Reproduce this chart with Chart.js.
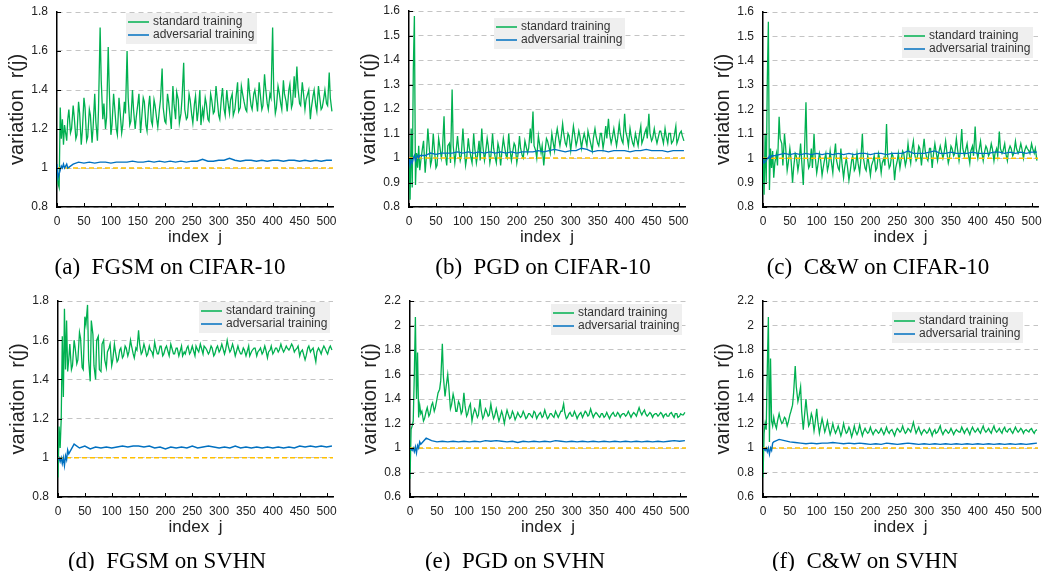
<!DOCTYPE html>
<html>
<head>
<meta charset="utf-8">
<script src="https://cdn.jsdelivr.net/npm/chart.js"></script>
<style>
  body { margin: 0; background: #fff; width: 1044px; height: 571px; position: relative; overflow: hidden; }
  canvas { position: absolute; }
  .cap { position: absolute; font-family: "Liberation Serif", "Times New Roman", serif; font-size: 23px; line-height: 26px; color: #000; white-space: pre; transform: translateX(-50%); }
</style>
</head>
<body>
<script>
// x positions (index j) of the "standard training" samples
const idxStd = [0,2,4,6,8,10,12,14,16,18,20,
  25,30,35,40,45,50,55,60,65,70,
  75,80,85,90,95,100,105,110,115,120,
  125,130,135,140,145,150,155,160,165,170,
  175,180,185,190,195,200,205,210,215,220,
  225,230,235,240,245,250,255,260,265,270,
  275,280,285,290,295,300,305,310,315,320,
  325,330,335,340,345,350,355,360,365,370,
  375,380,385,390,395,400,405,410,415,420,
  425,430,435,440,445,450,455,460,465,470,
  475,480,485,490,495,500,505,510];

// extra "standard training" samples read in between the ones above
const idxMid = [22,27,32,37,42,47,52,57,62,67,
  72,77,82,87,92,97,102,107,112,117,
  122,127,132,137,142,147,152,157,162,167,
  172,177,182,187,192,197,202,207,212,217,
  222,227,232,237,242,247,252,257,262,267,
  272,277,282,287,292,297,302,307,312,317,
  322,327,332,337,342,347,352,357,362,367,
  372,377,382,387,392,397,402,407,412,417,
  422,427,432,437,442,447,452,457,462,467,
  472,477,482,487,492,497,502,507];

// x positions of the "adversarial training" samples
const idxAdv = [0,2,4,6,8,10,12,14,16,18,20,
  30,40,50,60,70,80,90,100,110,120,
  130,140,150,160,170,180,190,200,210,220,
  230,240,250,260,270,280,290,300,310,320,
  330,340,350,360,370,380,390,400,410,420,
  430,440,450,460,470,480,490,500,510];

// (a) FGSM on CIFAR-10
const stdA = [1.00,0.92,0.90,1.31,1.15,1.25,1.12,1.22,1.18,1.14,1.25,
  1.18,1.32,1.15,1.34,1.12,1.36,1.14,1.30,1.13,1.38,
  1.14,1.72,1.25,1.20,1.62,1.17,1.38,1.20,1.36,1.18,
  1.34,1.60,1.22,1.40,1.20,1.33,1.18,1.36,1.22,1.32,
  1.24,1.35,1.25,1.30,1.51,1.24,1.38,1.26,1.42,1.25,
  1.35,1.28,1.54,1.25,1.38,1.27,1.33,1.24,1.40,1.30,
  1.36,1.25,1.38,1.28,1.42,1.27,1.36,1.30,1.40,1.28,
  1.38,1.30,1.44,1.31,1.37,1.30,1.46,1.32,1.38,1.34,
  1.44,1.30,1.48,1.33,1.38,1.72,1.28,1.42,1.33,1.45,
  1.34,1.40,1.31,1.47,1.52,1.33,1.44,1.30,1.38,1.25,
  1.37,1.32,1.42,1.30,1.36,1.33,1.49,1.29];
const midA = [1.30,1.20,1.26,1.17,1.28,1.19,1.31,1.16,1.27,1.21,
  1.24,1.30,1.45,1.33,1.26,1.40,1.22,1.31,1.17,1.29,
  1.22,1.28,1.36,1.24,1.30,1.26,1.38,1.25,1.34,1.19,
  1.37,1.22,1.32,1.21,1.35,1.31,1.23,1.34,1.20,1.33,
  1.39,1.23,1.36,1.30,1.26,1.35,1.23,1.37,1.29,1.22,
  1.26,1.33,1.24,1.35,1.29,1.36,1.25,1.41,1.27,1.34,
  1.35,1.27,1.36,1.29,1.42,1.34,1.29,1.39,1.30,1.40,
  1.29,1.38,1.32,1.41,1.30,1.36,1.40,1.31,1.39,1.30,
  1.38,1.29,1.43,1.33,1.36,1.41,1.32,1.39,1.35,1.40,
  1.31,1.40,1.29,1.37,1.31,1.40,1.32,1.36];
const advA = [1.02,0.95,0.97,0.99,1.01,1.00,1.02,1.00,1.01,1.02,1.00,
  1.02,1.03,1.025,1.03,1.025,1.03,1.03,1.025,1.03,1.03,
  1.03,1.035,1.03,1.03,1.035,1.03,1.035,1.03,1.035,1.03,
  1.035,1.03,1.035,1.035,1.045,1.035,1.035,1.04,1.04,1.05,
  1.04,1.035,1.04,1.04,1.035,1.04,1.035,1.04,1.04,1.035,
  1.04,1.04,1.035,1.04,1.035,1.04,1.035,1.04,1.04];

// (b) PGD on CIFAR-10
const stdB = [1.00,0.83,1.12,0.88,1.36,1.58,0.89,1.02,0.96,1.05,0.95,
  1.04,0.94,1.12,0.97,1.10,0.96,1.08,1.00,1.17,0.97,
  1.06,1.28,0.98,1.09,0.99,1.12,0.97,1.08,1.00,1.10,
  0.98,1.07,1.12,0.99,1.08,0.98,1.10,1.00,1.06,0.97,
  1.08,1.01,1.10,0.99,1.06,0.98,1.09,1.01,1.07,1.02,
  1.12,1.19,1.03,1.09,1.02,0.97,1.08,1.04,1.10,1.03,
  1.12,1.05,1.14,1.06,1.10,1.03,1.13,1.05,1.11,1.04,
  1.10,1.05,1.08,1.03,1.12,1.06,1.10,1.04,1.13,1.16,
  1.06,1.12,1.05,1.14,1.07,1.18,1.08,1.12,1.06,1.10,
  1.05,1.13,1.08,1.12,1.18,1.07,1.12,1.06,1.11,1.08,
  1.12,1.06,1.10,1.07,1.13,1.08,1.11,1.07];
const midB = [0.99,1.07,1.00,1.06,0.99,1.04,0.97,1.05,1.03,1.02,
  1.05,0.98,1.05,1.02,1.04,1.01,1.05,1.00,1.04,0.98,
  1.04,1.01,0.99,1.05,1.02,1.05,1.01,1.04,0.98,1.04,
  1.02,1.05,1.00,1.04,1.02,1.05,1.01,1.04,1.00,1.05,
  1.04,1.06,1.05,1.00,1.06,1.05,1.02,1.07,1.02,1.07,
  1.08,1.09,1.08,1.10,1.05,1.09,1.07,1.10,1.07,1.09,
  1.07,1.08,1.11,1.06,1.08,1.09,1.05,1.10,1.07,1.08,
  1.10,1.08,1.09,1.08,1.10,1.06,1.11,1.05,1.09,1.05,
  1.08,1.09,1.06,1.10,1.08,1.10,1.08,1.09,1.08,1.11,
  1.06,1.09,1.10,1.06,1.09,1.06,1.10,1.09];
const advB = [1.00,0.97,0.99,0.98,1.00,1.01,0.99,1.00,1.01,1.00,1.01,
  1.01,1.02,1.015,1.02,1.02,1.02,1.025,1.02,1.025,1.02,
  1.025,1.02,1.025,1.02,1.025,1.02,1.025,1.02,1.025,1.025,
  1.025,1.03,1.025,1.03,1.035,1.03,1.025,1.03,1.03,1.04,
  1.035,1.025,1.03,1.03,1.025,1.03,1.03,1.03,1.025,1.03,
  1.03,1.035,1.03,1.03,1.03,1.025,1.03,1.03,1.03];

// (c) C&W on CIFAR-10
const stdC = [1.00,0.85,1.10,0.90,1.32,1.56,0.87,1.04,0.96,1.03,0.92,
  1.02,1.17,1.06,1.10,0.95,1.04,0.90,1.02,0.95,1.06,
  0.89,1.23,0.96,1.04,1.10,0.94,1.02,0.93,1.00,0.95,
  1.03,0.94,1.06,0.96,1.04,0.92,1.00,0.91,0.99,0.95,
  1.02,0.94,1.10,0.96,1.01,0.93,0.99,0.95,1.02,0.94,
  1.00,1.14,0.96,1.02,0.91,0.99,0.96,1.03,0.97,1.06,
  0.98,1.07,0.99,1.05,0.97,1.08,1.00,1.04,0.96,1.06,
  0.99,1.05,1.00,1.07,0.98,1.05,1.01,1.08,0.99,1.12,
  1.01,1.06,0.98,1.05,1.13,1.00,1.07,0.99,1.05,1.01,
  1.06,0.99,1.04,1.11,1.02,1.06,0.99,1.05,1.01,1.07,
  1.02,1.06,1.00,1.05,1.03,1.06,1.02,0.99];
const midC = [0.98,0.97,1.08,0.97,1.05,0.98,1.00,0.96,1.01,0.98,
  0.99,1.01,1.02,0.97,0.96,1.01,0.97,1.00,0.96,1.02,
  0.97,0.99,1.00,0.99,0.95,0.98,0.96,0.97,0.94,1.01,
  0.96,0.98,0.99,1.00,0.95,0.98,0.97,1.01,0.96,1.00,
  0.98,0.97,1.01,0.97,1.01,0.96,1.02,0.99,1.02,0.99,
  1.02,1.03,1.02,1.00,1.04,1.02,1.03,0.99,1.04,1.01,
  1.03,1.02,1.03,1.02,1.03,1.00,1.04,1.02,1.04,1.02,
  1.04,1.03,1.02,1.03,1.01,1.04,1.03,1.03,1.02,1.04,
  1.02,1.04,1.02,1.01,1.04,1.03,1.02,1.03,1.04,1.02,
  1.04,1.03,1.04,1.03,1.04,1.02,1.04,1.04];
const advC = [1.00,0.98,0.985,0.99,1.00,1.00,1.01,1.00,1.01,1.01,1.01,
  1.015,1.02,1.015,1.02,1.015,1.02,1.015,1.02,1.015,1.02,
  1.015,1.02,1.015,1.02,1.015,1.02,1.02,1.015,1.02,1.02,
  1.015,1.02,1.02,1.02,1.03,1.02,1.02,1.02,1.025,1.03,
  1.02,1.02,1.025,1.02,1.02,1.02,1.025,1.02,1.02,1.02,
  1.025,1.025,1.02,1.025,1.02,1.025,1.02,1.025,1.025];

// (d) FGSM on SVHN
const stdD = [0.90,1.16,1.05,1.20,1.62,1.31,1.76,1.45,1.70,1.44,1.50,
  1.45,1.60,1.48,1.64,1.46,1.72,1.78,1.39,1.63,1.40,
  1.62,1.44,1.60,1.46,1.56,1.47,1.58,1.49,1.55,1.51,
  1.57,1.52,1.60,1.53,1.56,1.65,1.53,1.58,1.52,1.57,
  1.54,1.59,1.53,1.57,1.52,1.56,1.54,1.58,1.53,1.56,
  1.52,1.57,1.54,1.56,1.53,1.57,1.52,1.55,1.58,1.53,
  1.56,1.53,1.57,1.52,1.56,1.54,1.58,1.53,1.60,1.54,
  1.58,1.52,1.57,1.53,1.56,1.52,1.57,1.54,1.56,1.52,
  1.55,1.53,1.57,1.51,1.55,1.53,1.56,1.54,1.58,1.54,
  1.57,1.55,1.58,1.54,1.56,1.52,1.55,1.50,1.56,1.54,
  1.56,1.49,1.56,1.53,1.57,1.54,1.56,1.55];
const midD = [1.58,1.47,1.56,1.50,1.61,1.45,1.68,1.50,1.70,1.47,
  1.60,1.45,1.58,1.50,1.54,1.58,1.50,1.54,1.50,1.56,
  1.52,1.56,1.54,1.57,1.51,1.55,1.58,1.54,1.56,1.53,
  1.55,1.52,1.56,1.53,1.57,1.53,1.57,1.52,1.56,1.53,
  1.56,1.54,1.52,1.53,1.57,1.54,1.55,1.57,1.54,1.56,
  1.57,1.55,1.54,1.56,1.53,1.57,1.55,1.56,1.55,1.57,
  1.55,1.56,1.54,1.55,1.53,1.55,1.54,1.52,1.55,1.56,
  1.54,1.56,1.54,1.55,1.54,1.57,1.54,1.56,1.55,1.56,
  1.55,1.56,1.56,1.57,1.55,1.57,1.54,1.53,1.52,1.57,
  1.55,1.53,1.54,1.55,1.55,1.56,1.53,1.57];
const advD = [0.99,1.00,0.98,1.00,0.97,1.00,0.96,1.01,0.99,1.04,1.02,
  1.07,1.05,1.06,1.045,1.055,1.05,1.055,1.05,1.055,1.06,
  1.055,1.06,1.06,1.055,1.06,1.05,1.055,1.045,1.055,1.05,
  1.055,1.05,1.06,1.05,1.055,1.06,1.055,1.05,1.055,1.05,
  1.06,1.05,1.055,1.05,1.055,1.05,1.055,1.05,1.055,1.05,
  1.055,1.05,1.06,1.055,1.06,1.055,1.06,1.055,1.06];

// (e) PGD on SVHN
const stdE = [0.75,1.15,1.18,1.22,1.60,2.07,1.40,1.78,1.25,1.35,1.28,
  1.22,1.30,1.26,1.35,1.30,1.40,1.48,1.85,1.42,1.60,
  1.32,1.44,1.30,1.38,1.28,1.45,1.26,1.34,1.22,1.32,
  1.25,1.40,1.24,1.32,1.26,1.36,1.24,1.32,1.22,1.30,
  1.20,1.31,1.24,1.30,1.23,1.29,1.25,1.30,1.24,1.28,
  1.26,1.30,1.24,1.28,1.25,1.31,1.24,1.28,1.26,1.30,
  1.25,1.30,1.36,1.24,1.28,1.26,1.30,1.24,1.28,1.25,
  1.30,1.26,1.32,1.25,1.29,1.26,1.28,1.25,1.29,1.24,
  1.28,1.26,1.29,1.25,1.28,1.26,1.30,1.25,1.29,1.26,
  1.33,1.27,1.31,1.26,1.29,1.25,1.28,1.26,1.29,1.25,
  1.28,1.26,1.29,1.25,1.28,1.26,1.27,1.29];
const midE = [1.30,1.24,1.33,1.28,1.37,1.33,1.45,1.55,1.58,1.50,
  1.50,1.35,1.40,1.30,1.36,1.30,1.35,1.28,1.36,1.27,
  1.30,1.27,1.31,1.26,1.30,1.27,1.30,1.26,1.28,1.25,
  1.27,1.25,1.28,1.25,1.28,1.25,1.27,1.26,1.28,1.25,
  1.28,1.25,1.29,1.26,1.29,1.26,1.28,1.25,1.28,1.25,
  1.28,1.27,1.30,1.29,1.25,1.29,1.26,1.28,1.26,1.29,
  1.27,1.29,1.27,1.29,1.27,1.28,1.25,1.28,1.26,1.27,
  1.26,1.29,1.26,1.28,1.27,1.28,1.27,1.28,1.27,1.28,
  1.29,1.30,1.29,1.28,1.27,1.28,1.27,1.28,1.27,1.28,
  1.27,1.26,1.28,1.27,1.28,1.25,1.28,1.27];
const advE = [1.00,0.99,0.98,1.00,0.97,1.01,0.96,1.02,1.00,1.05,1.03,
  1.08,1.06,1.05,1.055,1.05,1.055,1.05,1.055,1.05,1.055,
  1.05,1.06,1.055,1.06,1.055,1.05,1.055,1.045,1.055,1.05,
  1.055,1.05,1.055,1.05,1.06,1.055,1.05,1.055,1.05,1.055,
  1.05,1.055,1.05,1.055,1.05,1.055,1.05,1.055,1.05,1.055,
  1.05,1.055,1.05,1.055,1.05,1.055,1.06,1.055,1.06];

// (f) C&W on SVHN
const stdF = [0.76,1.12,1.20,1.15,1.65,2.07,1.05,1.73,1.22,1.18,1.25,
  1.16,1.28,1.20,1.25,1.18,1.27,1.35,1.67,1.38,1.50,
  1.15,1.40,1.18,1.28,1.14,1.32,1.12,1.24,1.13,1.22,
  1.11,1.20,1.12,1.18,1.10,1.20,1.12,1.17,1.09,1.18,
  1.11,1.19,1.10,1.16,1.12,1.17,1.11,1.15,1.12,1.16,
  1.11,1.17,1.12,1.15,1.10,1.16,1.13,1.18,1.12,1.16,
  1.13,1.21,1.12,1.17,1.11,1.15,1.12,1.16,1.10,1.15,
  1.13,1.18,1.11,1.15,1.12,1.16,1.11,1.15,1.13,1.17,
  1.12,1.16,1.11,1.17,1.13,1.16,1.12,1.18,1.13,1.16,
  1.12,1.18,1.13,1.16,1.12,1.17,1.13,1.16,1.12,1.17,
  1.13,1.16,1.12,1.15,1.13,1.16,1.12,1.15];
const midF = [1.20,1.22,1.24,1.21,1.24,1.21,1.30,1.45,1.50,1.42,
  1.30,1.25,1.30,1.20,1.25,1.20,1.22,1.17,1.20,1.16,
  1.17,1.14,1.16,1.14,1.15,1.13,1.16,1.13,1.15,1.12,
  1.14,1.13,1.15,1.13,1.14,1.13,1.14,1.13,1.14,1.13,
  1.14,1.13,1.14,1.14,1.13,1.13,1.15,1.14,1.15,1.13,
  1.15,1.16,1.17,1.14,1.14,1.13,1.14,1.13,1.14,1.13,
  1.12,1.15,1.14,1.13,1.14,1.13,1.14,1.13,1.14,1.13,
  1.15,1.14,1.14,1.14,1.15,1.14,1.14,1.15,1.15,1.14,
  1.14,1.15,1.15,1.14,1.14,1.15,1.14,1.15,1.14,1.14,
  1.15,1.14,1.15,1.14,1.14,1.15,1.14,1.14];
const advF = [1.00,0.99,0.98,1.00,0.97,1.00,0.95,1.00,0.98,1.04,1.05,
  1.07,1.06,1.05,1.045,1.04,1.035,1.04,1.035,1.04,1.04,
  1.045,1.04,1.035,1.04,1.035,1.04,1.035,1.03,1.035,1.03,
  1.04,1.035,1.03,1.035,1.04,1.035,1.03,1.035,1.03,1.035,
  1.03,1.035,1.03,1.035,1.03,1.035,1.03,1.035,1.03,1.035,
  1.03,1.035,1.03,1.035,1.03,1.035,1.03,1.035,1.04];

const baseline = 1;   // orange dashed reference r(j) = 1
const xMax = 512;
const seriesNames = ['standard training', 'adversarial training'];

// plot box = [left, top, right, bottom] on the page, legend = offset inside the plot area
const panels = [
  { plot: [57, 12, 333, 207],  y: [0.8, 1.8, 0.2], std: stdA, mid: midA, adv: advA, legend: [69, 1],   cap: '(a)  FGSM on CIFAR-10', capAt: [170, 267] },
  { plot: [409, 11, 685, 207], y: [0.8, 1.6, 0.1], std: stdB, mid: midB, adv: advB, legend: [85, 7],   cap: '(b)  PGD on CIFAR-10',  capAt: [543, 267] },
  { plot: [763, 12, 1038, 207], y: [0.8, 1.6, 0.1], std: stdC, mid: midC, adv: advC, legend: [139, 15], cap: '(c)  C&W on CIFAR-10',  capAt: [878, 267] },
  { plot: [58, 301, 333, 497], y: [0.8, 1.8, 0.2], std: stdD, mid: midD, adv: advD, legend: [141, 1],  cap: '(d)  FGSM on SVHN',     capAt: [167, 561] },
  { plot: [410, 301, 686, 497], y: [0.6, 2.2, 0.2], std: stdE, mid: midE, adv: advE, legend: [141, 3],  cap: '(e)  PGD on SVHN',      capAt: [515, 561] },
  { plot: [763, 301, 1038, 497], y: [0.6, 2.2, 0.2], std: stdF, mid: midF, adv: advF, legend: [129, 11], cap: '(f)  C&W on SVHN',      capAt: [865, 561] }
];

const GREEN = '#00b050', BLUE = '#0070c0', ORANGE = '#ffc000';
const Y_AXIS_W = 57, X_AXIS_H = 48, PAD_TOP = 8, PAD_RIGHT = 6;

Chart.defaults.font.family = '"Liberation Sans", Arial, sans-serif';
Chart.defaults.color = '#222';

// inner tick marks + the grey legend box inside the plot
const overlay = {
  id: 'overlay',
  afterDatasetsDraw(chart) {
    const { ctx, chartArea: a, scales: { x, y } } = chart;
    const off = chart.options.plugins.overlay.legend;
    ctx.save();
    ctx.strokeStyle = '#000';
    ctx.lineWidth = 1;
    ctx.beginPath();
    x.ticks.forEach(t => {
      const px = Math.round(x.getPixelForValue(t.value)) + 0.5;
      ctx.moveTo(px, a.bottom); ctx.lineTo(px, a.bottom - 4);
    });
    y.ticks.forEach(t => {
      const py = Math.round(y.getPixelForValue(t.value)) + 0.5;
      ctx.moveTo(a.left, py); ctx.lineTo(a.left + 4, py);
    });
    ctx.stroke();

    const lx = a.left + off[0], ly = a.top + off[1];
    ctx.fillStyle = '#efefef';
    ctx.fillRect(lx, ly, 131, 31);
    const items = [chart.data.datasets[2], chart.data.datasets[0]];
    ctx.font = '12px "Liberation Sans", Arial, sans-serif';
    ctx.textBaseline = 'middle';
    items.forEach((ds, i) => {
      const cy = ly + 9 + i * 13;
      ctx.strokeStyle = ds.borderColor;
      ctx.lineWidth = 1.5;
      ctx.beginPath(); ctx.moveTo(lx + 2, cy); ctx.lineTo(lx + 23, cy); ctx.stroke();
      ctx.fillStyle = '#333';
      ctx.fillText(ds.label, lx + 27, cy);
    });
    ctx.restore();
  }
};

panels.forEach(p => {
  const [l, t, r, b] = p.plot;
  const cv = document.createElement('canvas');
  cv.width = r - l + Y_AXIS_W + PAD_RIGHT;
  cv.height = b - t + PAD_TOP + X_AXIS_H;
  cv.style.left = (l - Y_AXIS_W) + 'px';
  cv.style.top = (t - PAD_TOP) + 'px';
  document.body.appendChild(cv);

  const cap = document.createElement('div');
  cap.className = 'cap';
  cap.textContent = p.cap;
  cap.style.left = p.capAt[0] + 'px';
  cap.style.top = (p.capAt[1] - 13) + 'px';
  document.body.appendChild(cap);

  // merge both sets of green samples into one line, ordered by index
  const stdPoints = idxStd.map((j, i) => ({ x: j, y: p.std[i] }))
    .concat(idxMid.map((j, i) => ({ x: j, y: p.mid[i] })))
    .sort((u, v) => u.x - v.x);

  new Chart(cv, {
    type: 'line',
    data: {
      datasets: [
        { label: seriesNames[1], data: idxAdv.map((j, i) => ({ x: j, y: p.adv[i] })),
          borderColor: BLUE, borderWidth: 1.4, pointRadius: 0, tension: 0 },
        { label: 'baseline', data: [{ x: 0, y: baseline }, { x: xMax, y: baseline }],
          borderColor: ORANGE, borderWidth: 1.5, borderDash: [5, 3], pointRadius: 0 },
        { label: seriesNames[0], data: stdPoints,
          borderColor: GREEN, borderWidth: 1.3, pointRadius: 0, tension: 0 }
      ]
    },
    options: {
      responsive: false,
      animation: false,
      layout: { padding: { top: PAD_TOP, right: PAD_RIGHT, left: 0, bottom: 0 } },
      plugins: {
        legend: { display: false },
        tooltip: { enabled: false },
        overlay: { legend: p.legend }
      },
      scales: {
        x: {
          type: 'linear', min: 0, max: xMax,
          ticks: { stepSize: 50, includeBounds: false, autoSkip: false, maxRotation: 0, padding: 7, font: { size: 12 } },
          grid: { display: false, drawTicks: false },
          border: { display: true, color: '#000', width: 1.5 },
          title: { display: true, text: 'index  j', font: { size: 17 }, padding: { top: 0, bottom: 7 } },
          afterFit: s => { s.height = X_AXIS_H; s.paddingLeft = 0; s.paddingRight = 0; }
        },
        y: {
          min: p.y[0], max: p.y[1],
          ticks: { stepSize: p.y[2], includeBounds: false, padding: 9, font: { size: 12 },
                   callback: v => String(Math.round(v * 10) / 10) },
          grid: { color: '#c4c4c4', lineWidth: 1, drawTicks: false },
          border: { display: true, color: '#000', width: 1.5, dash: [5, 4] },
          title: { display: true, text: 'variation  r(j)', font: { size: 20 }, padding: { top: 5, bottom: 0 } },
          afterFit: s => { s.width = Y_AXIS_W; s.paddingTop = 0; s.paddingBottom = 0; }
        }
      }
    },
    plugins: [overlay]
  });
});
</script>
</body>
</html>
